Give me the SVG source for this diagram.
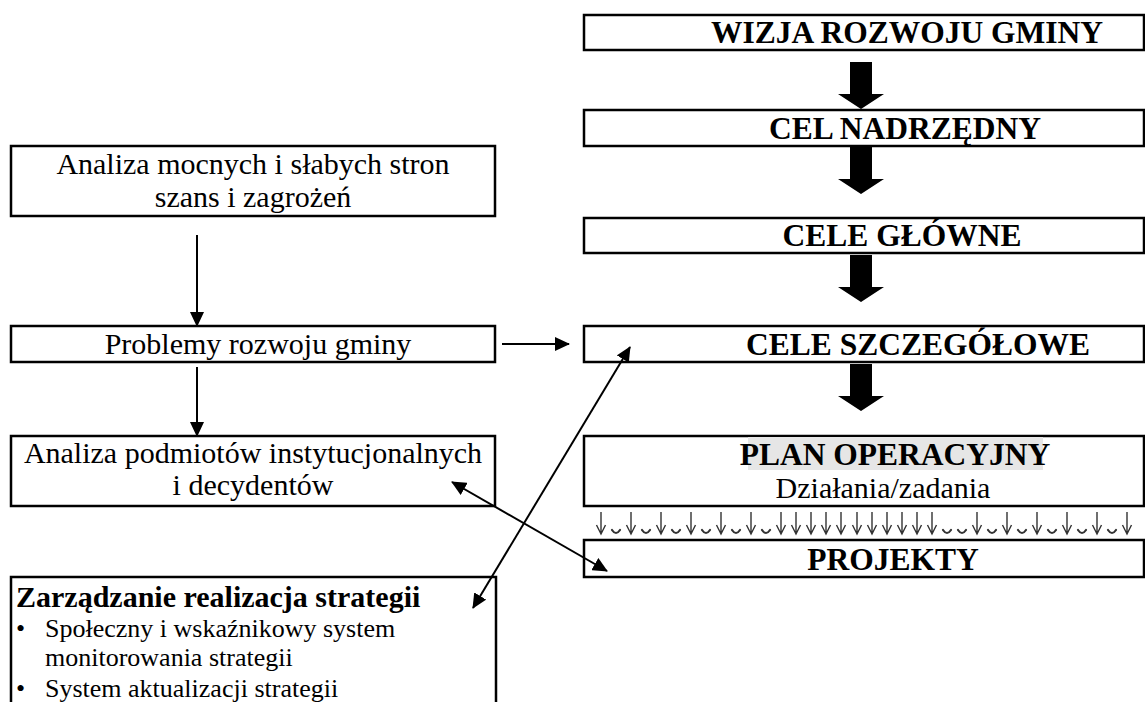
<svg xmlns="http://www.w3.org/2000/svg" width="1145" height="702" viewBox="0 0 1145 702">
<style>
.box{fill:#fff;stroke:#000;stroke-width:2.5}
.b{font-family:"Liberation Serif","Times New Roman",serif;font-weight:bold;font-size:31.5px;text-anchor:middle;fill:#000}
.r{font-family:"Liberation Serif","Times New Roman",serif;font-size:30px;text-anchor:middle;fill:#000}
.l{font-family:"Liberation Serif","Times New Roman",serif;font-size:26px;fill:#000}
.lb{font-family:"Liberation Serif","Times New Roman",serif;font-weight:bold;font-size:30px;fill:#000}
.thin{stroke:#000;stroke-width:2;fill:none}
.sa{stroke:#333;stroke-width:1.4;fill:none}
.ch{stroke:#333;stroke-width:2.2;fill:none;stroke-linecap:round}
</style>
<defs>
<marker id="ah" markerUnits="userSpaceOnUse" markerWidth="15" markerHeight="14" refX="14" refY="7" orient="auto-start-reverse">
<path d="M0,0 L15,7 L0,14 Z" fill="#000"/>
</marker>
<path id="big" d="M-11,0 H11 V32 H23 L0,47 L-23,32 H-11 Z" fill="#000"/>
<path id="small" d="M0,0 V21 M-4.5,13 L0,22 L4.5,13" class="sa"/>
<path id="chev" d="M-4,0 Q0,6 4,0" class="ch"/>
</defs>
<rect width="1145" height="702" fill="#fff"/>

<g id="n-wizja">
<rect class="box" x="584" y="15" width="560" height="35"/>
<text class="b" x="907" y="43">WIZJA ROZWOJU GMINY</text>
</g>
<g id="n-cel-nadrzedny">
<rect class="box" x="584" y="110" width="560" height="36"/>
<text class="b" x="905" y="139">CEL NADRZĘDNY</text>
</g>
<g id="n-cele-glowne">
<rect class="box" x="584" y="218" width="560" height="35"/>
<text class="b" x="902" y="246">CELE GŁÓWNE</text>
</g>
<g id="n-cele-szczegolowe">
<rect class="box" x="584" y="326" width="560" height="36"/>
<text class="b" x="918" y="355">CELE SZCZEGÓŁOWE</text>
</g>
<g id="n-plan">
<rect class="box" x="584" y="436" width="560" height="70"/>
<rect x="748" y="437" width="295" height="33" fill="#e6e6e6"/>
<text class="b" x="895" y="465">PLAN OPERACYJNY</text>
<text class="r" x="883" y="498">Działania/zadania</text>
</g>
<g id="n-projekty">
<rect class="box" x="584" y="540" width="560" height="37"/>
<text class="b" x="893" y="570">PROJEKTY</text>
</g>

<g id="n-analiza-swot">
<rect class="box" x="11" y="146" width="484" height="70"/>
<text class="r" x="253" y="174">Analiza mocnych i słabych stron</text>
<text class="r" x="253" y="207">szans i zagrożeń</text>
</g>
<g id="n-problemy">
<rect class="box" x="11" y="326" width="484" height="36"/>
<text class="r" x="258" y="354">Problemy rozwoju gminy</text>
</g>
<g id="n-podmioty">
<rect class="box" x="11" y="436" width="484" height="70"/>
<text class="r" x="253" y="463">Analiza podmiotów instytucjonalnych</text>
<text class="r" x="253" y="495">i decydentów</text>
</g>
<g id="n-zarzadzanie">
<rect class="box" x="11" y="577" width="485" height="140"/>
<text class="lb" x="16" y="607">Zarządzanie realizacja strategii</text>
<text class="l" x="16" y="637">•</text>
<text class="l" x="45" y="637">Społeczny i wskaźnikowy system</text>
<text class="l" x="45" y="666">monitorowania strategii</text>
<text class="l" x="16" y="697">•</text>
<text class="l" x="45" y="697">System aktualizacji strategii</text>
</g>

<g id="connectors">
<use href="#big" x="861" y="62"/>
<use href="#big" x="861" y="147"/>
<use href="#big" x="861" y="255"/>
<use href="#big" x="861" y="364"/>
<line class="thin" x1="197" y1="235" x2="197" y2="326" marker-end="url(#ah)"/>
<line class="thin" x1="197" y1="367" x2="197" y2="436" marker-end="url(#ah)"/>
<line class="thin" x1="502" y1="344" x2="569" y2="344" marker-end="url(#ah)"/>
<line class="thin" x1="473" y1="608" x2="630" y2="347" marker-start="url(#ah)" marker-end="url(#ah)"/>
<line class="thin" x1="452" y1="482" x2="607" y2="571" marker-start="url(#ah)" marker-end="url(#ah)"/>
<g id="row-arrows">
<use href="#small" x="601" y="512"/><use href="#chev" x="616" y="530"/>
<use href="#small" x="631" y="512"/><use href="#chev" x="646" y="530"/>
<use href="#small" x="661" y="512"/><use href="#chev" x="676" y="530"/>
<use href="#small" x="691" y="512"/><use href="#chev" x="706" y="530"/>
<use href="#small" x="721" y="512"/><use href="#chev" x="736" y="530"/>
<use href="#small" x="751" y="512"/><use href="#chev" x="766" y="530"/>
<use href="#small" x="781" y="512"/><use href="#small" x="796" y="512"/>
<use href="#small" x="811" y="512"/><use href="#small" x="826" y="512"/>
<use href="#small" x="841" y="512"/><use href="#small" x="857" y="512"/>
<use href="#small" x="872" y="512"/><use href="#small" x="887" y="512"/>
<use href="#small" x="902" y="512"/><use href="#small" x="917" y="512"/>
<use href="#small" x="932" y="512"/>
<use href="#chev" x="947" y="530"/><use href="#chev" x="962" y="530"/>
<use href="#small" x="977" y="512"/><use href="#chev" x="992" y="530"/>
<use href="#small" x="1007" y="512"/><use href="#chev" x="1022" y="530"/>
<use href="#small" x="1037" y="512"/><use href="#chev" x="1052" y="530"/>
<use href="#small" x="1067" y="512"/><use href="#chev" x="1082" y="530"/>
<use href="#small" x="1097" y="512"/><use href="#chev" x="1112" y="530"/>
<use href="#small" x="1127" y="512"/>
</g>
</g>
</svg>
